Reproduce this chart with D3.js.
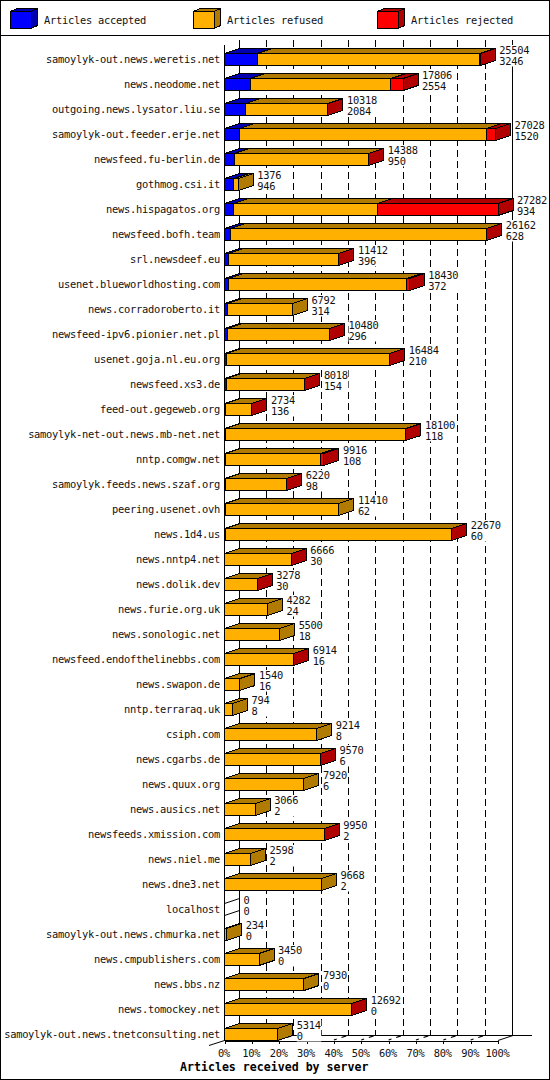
<!DOCTYPE html>
<html><head><meta charset="utf-8">
<script src="https://cdn.jsdelivr.net/npm/d3@7/dist/d3.min.js"></script>
<style>
html,body{margin:0;padding:0;background:#fff}
svg{display:block}
text{font-family:"DejaVu Sans Mono",monospace;font-size:10.4px;letter-spacing:-0.26px;fill:#000;opacity:.93}
.title{font-weight:bold;font-size:11.6px;letter-spacing:0;opacity:1}
</style></head><body>
<script>
const servers=["samoylyk-out.news.weretis.net","news.neodome.net","outgoing.news.lysator.liu.se","samoylyk-out.feeder.erje.net","newsfeed.fu-berlin.de","gothmog.csi.it","news.hispagatos.org","newsfeed.bofh.team","srl.newsdeef.eu","usenet.blueworldhosting.com","news.corradoroberto.it","newsfeed-ipv6.pionier.net.pl","usenet.goja.nl.eu.org","newsfeed.xs3.de","feed-out.gegeweb.org","samoylyk-net-out.news.mb-net.net","nntp.comgw.net","samoylyk.feeds.news.szaf.org","peering.usenet.ovh","news.1d4.us","news.nntp4.net","news.dolik.dev","news.furie.org.uk","news.sonologic.net","newsfeed.endofthelinebbs.com","news.swapon.de","nntp.terraraq.uk","csiph.com","news.cgarbs.de","news.quux.org","news.ausics.net","newsfeeds.xmission.com","news.niel.me","news.dne3.net","localhost","samoylyk-out.news.chmurka.net","news.cmpublishers.com","news.bbs.nz","news.tomockey.net","samoylyk-out.news.tnetconsulting.net"];
const totals=[25504,17806,10318,27028,14388,1376,27282,26162,11412,18430,6792,10480,16484,8018,2734,18100,9916,6220,11410,22670,6666,3278,4282,5500,6914,1540,794,9214,9570,7920,3066,9950,2598,9668,0,234,3450,7930,12692,5314];
const accepted=[3246,2554,2084,1520,950,946,934,628,396,372,314,296,210,154,136,118,108,98,62,60,30,30,24,18,16,16,8,8,6,6,2,2,2,2,0,0,0,0,0,0];
const rejected=[60,1200,30,900,10,0,12050,10,10,300,0,40,10,10,10,10,300,10,0,50,10,10,0,0,10,0,0,0,20,0,0,8,0,0,0,0,0,0,10,0];
const percentTicks=[0,10,20,30,40,50,60,70,80,90,100];
const legendNames=["Articles accepted","Articles refused","Articles rejected"];
const frontColors=["#0000ff","#ffb000","#ff0000"];
const darkColors=["#0000b0","#b07b00","#b00000"];
const axisTitle="Articles received by server";

const W=550,H=1080,dx=15,dy=5,barH=12;
const svg=d3.select("body").append("svg").attr("width",W).attr("height",H);
const x=d3.scaleLinear().domain([0,27282]).range([224.5,498]);
const pct=d3.scaleLinear().domain([0,100]).range([224.5,498]);
const y=d3.scalePoint().domain(servers).range([65.5,1040.5]);
const crisp=s=>s.attr("shape-rendering","crispEdges");

// frame + legend
crisp(svg.append("rect").attr("x",.5).attr("y",.5).attr("width",W-1).attr("height",H-1).attr("fill","#fff").attr("stroke","#000"));
crisp(svg.append("line").attr("x1",0).attr("x2",W).attr("y1",35.5).attr("y2",35.5).attr("stroke","#000"));
function poly(g,pts,fill){return g.append("polygon").attr("points",pts.map(p=>p.join(",")).join(" ")).attr("fill",fill).attr("stroke","#000").attr("stroke-width",1).attr("shape-rendering","crispEdges");}
const lx=[10.5,193.5,377.5];
legendNames.forEach((n,i)=>{
  const g=svg.append("g"),a=lx[i],b=a+20.5,t=11.5,u=28.5,ox=6.5,oy=3;
  poly(g,[[a,t],[a+ox,t-oy],[b+ox,t-oy],[b,t]],darkColors[i]);
  poly(g,[[b,t],[b+ox,t-oy],[b+ox,u-oy],[b,u]],darkColors[i]);
  poly(g,[[a,t],[b,t],[b,u],[a,u]],frontColors[i]);
  g.append("text").attr("x",a+33.5).attr("y",24).text(n);
});

// back wall grid
const grid=svg.append("g");
percentTicks.forEach(p=>{
  const X=Math.round(pct(p)+dx)+.5-1;
  const solid=p===0||p===100;
  crisp(grid.append("line").attr("x1",X).attr("x2",X).attr("y1",40).attr("y2",1035.5)
    .attr("stroke","#000").attr("stroke-dasharray",solid?null:"7,4"));
  if(p>0&&p<100){
    grid.append("line").attr("x1",pct(p)).attr("y1",1040).attr("x2",pct(p)+dx).attr("y2",1035)
      .attr("stroke","#000").attr("stroke-width",1.2).attr("stroke-dasharray","3,5,5,10");
  }
});
// floor lines
crisp(grid.append("line").attr("x1",239).attr("x2",532).attr("y1",1035.5).attr("y2",1035.5).attr("stroke","#000"));
grid.append("line").attr("x1",209).attr("y1",1045.5).attr("x2",224.5).attr("y2",1040.5).attr("stroke","#000");
grid.append("line").attr("x1",498).attr("y1",1040.5).attr("x2",513).attr("y2",1035.5).attr("stroke","#000");

// bottom axis from the library
const axis=svg.append("g").attr("transform","translate(0,1040.5)")
  .call(d3.axisBottom(pct).tickValues(percentTicks).tickFormat(d=>d+"%").tickSize(3).tickPadding(3));
axis.select(".domain").attr("stroke","#000").attr("shape-rendering","crispEdges");
axis.selectAll("line").attr("shape-rendering","crispEdges");
axis.attr("font-family",null).attr("font-size",null);
axis.selectAll("text").attr("dy",0).attr("y",16.5).attr("x",-1);

// left axis
crisp(svg.append("line").attr("x1",224.5).attr("x2",224.5).attr("y1",45).attr("y2",1040.5).attr("stroke","#000"));

// bars
servers.forEach((name,i)=>{
  const g=svg.append("g"),base=y(name),top=base-barH;
  const refused=Math.max(0,totals[i]-accepted[i]-rejected[i]);
  const vals=[accepted[i],refused,rejected[i]];
  let cum=0;
  if(totals[i]===0){
    const X=x(0);
    g.append("line").attr("x1",X).attr("y1",top).attr("x2",X+dx).attr("y2",top-dy).attr("stroke","#000");
    g.append("line").attr("x1",X).attr("y1",base).attr("x2",X+dx).attr("y2",base-dy).attr("stroke","#000");
  }
  vals.forEach((v,k)=>{
    if(v<=0)return;
    const a=x(cum),b=x(cum+v);cum+=v;
    poly(g,[[a,top],[a+dx,top-dy],[b+dx,top-dy],[b,top]],darkColors[k]);
    poly(g,[[b,top],[b+dx,top-dy],[b+dx,base-dy],[b,base]],darkColors[k]);
    poly(g,[[a,top],[b,top],[b,base],[a,base]],frontColors[k]);
  });
  g.append("text").attr("x",220).attr("y",base-3).attr("text-anchor","end").text(name);
  const tx=x(totals[i])+dx+4,l1=String(totals[i]),l2=String(accepted[i]);
  g.append("rect").attr("x",tx).attr("y",base-20.5).attr("width",Math.max(l1.length,l2.length)*6+.5).attr("height",21.5).attr("fill","#fff");
  g.append("text").attr("x",tx).attr("y",base-11.5).text(l1);
  g.append("text").attr("x",tx).attr("y",base-.5).text(l2);
});

svg.append("text").attr("class","title").attr("x",180).attr("y",1071).text(axisTitle);
</script>
</body></html>
